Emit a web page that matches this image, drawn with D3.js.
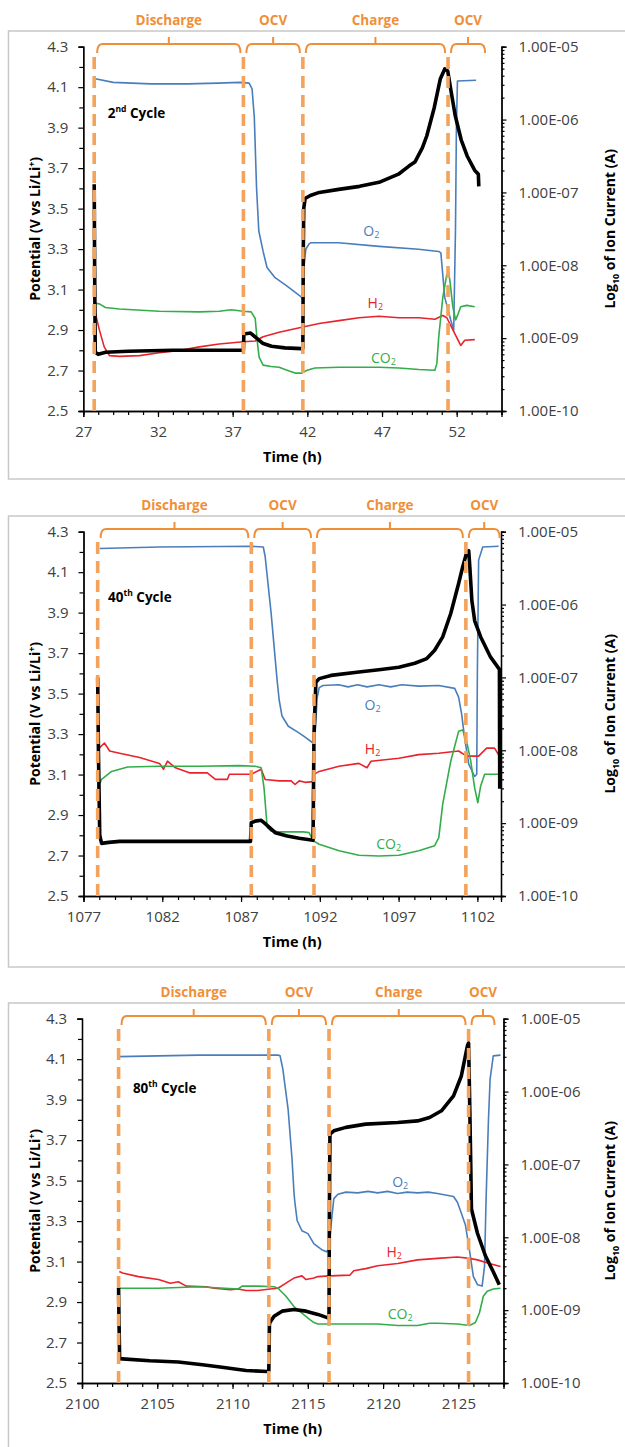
<!DOCTYPE html>
<html>
<head>
<meta charset="utf-8">
<script src="https://cdn.jsdelivr.net/npm/d3@7"></script>
<style>
  body { margin: 0; background: #fff; }
  svg { display: block; font-family: "Open Sans", sans-serif; }
</style>
</head>
<body>
<svg id="chart" width="625" height="1447"></svg>
<script>
// ---- shared axis values ----
const potentialTicks = [2.5, 2.7, 2.9, 3.1, 3.3, 3.5, 3.7, 3.9, 4.1, 4.3];
const potentialMinor = [2.6, 2.8, 3.0, 3.2, 3.4, 3.6, 3.8, 4.0, 4.2];
const currentTicks = [-10, -9, -8, -7, -6, -5];          // log10 of ion current
const currentTickLabels = ['1.00E-10', '1.00E-09', '1.00E-08', '1.00E-07', '1.00E-06', '1.00E-05'];
const phaseNames = ['Discharge', 'OCV', 'Charge', 'OCV'];

// ---- 2nd cycle ----
const c2Ticks = [27, 32, 37, 42, 47, 52];
const c2Phases = [27.73, 37.72, 41.7, 51.42, 54.1];
const c2Potential = [[27.73,3.62],[27.76,3.2],[27.8,2.79],[28.0,2.78],[28.5,2.79],[30,2.795],[33,2.8],[36,2.8],[37.6,2.8],[37.72,2.8],[37.75,2.88],[38.2,2.885],[38.6,2.86],[39.0,2.835],[39.6,2.82],[40.5,2.812],[41.6,2.808],[41.7,2.81],[41.73,3.3],[41.76,3.5],[41.85,3.55],[42.2,3.565],[42.8,3.58],[44.1,3.595],[45.5,3.61],[46.8,3.63],[48.1,3.67],[48.8,3.71],[49.2,3.73],[49.7,3.8],[50.0,3.86],[50.5,4.0],[50.9,4.14],[51.2,4.19],[51.4,4.18],[51.6,4.09],[51.9,3.96],[52.3,3.84],[52.7,3.76],[53.2,3.69],[53.45,3.67],[53.48,3.61]];
const c2O2 = [[27.8,-5.44],[29.0,-5.49],[31.5,-5.51],[34.0,-5.51],[36.0,-5.50],[37.5,-5.49],[38.1,-5.50],[38.3,-5.58],[38.45,-5.97],[38.6,-6.94],[38.75,-7.53],[39.04,-7.81],[39.3,-8.03],[39.84,-8.17],[40.6,-8.28],[41.63,-8.44],[41.7,-8.47],[41.75,-8.06],[41.9,-7.78],[42.1,-7.71],[42.25,-7.69],[44.1,-7.69],[46.8,-7.74],[49.45,-7.78],[50.8,-7.81],[50.94,-7.83],[51.2,-8.44],[51.6,-8.75],[51.8,-8.89],[51.92,-7.5],[51.98,-6.11],[52.05,-5.47],[53.3,-5.46]];
const c2H2 = [[27.76,-8.62],[28.08,-8.89],[28.4,-9.12],[28.75,-9.24],[29.42,-9.25],[30.76,-9.24],[32.09,-9.20],[33.43,-9.17],[34.77,-9.12],[36.1,-9.08],[37.71,-9.05],[38.51,-9.04],[39.04,-8.98],[40.11,-8.92],[41.63,-8.85],[42.79,-8.80],[44.12,-8.76],[45.46,-8.72],[46.79,-8.70],[48.13,-8.72],[49.47,-8.72],[50.54,-8.74],[51.07,-8.69],[51.34,-8.72],[51.88,-8.94],[52.27,-9.10],[52.54,-9.03],[53.21,-9.02]];
const c2CO2 = [[27.81,-8.52],[28.08,-8.53],[28.48,-8.58],[29.42,-8.60],[32.09,-8.63],[34.77,-8.64],[36.1,-8.63],[36.91,-8.61],[37.71,-8.63],[38.24,-8.64],[38.51,-8.73],[38.64,-9.03],[38.77,-9.26],[39.04,-9.37],[39.57,-9.39],[40.11,-9.40],[40.64,-9.44],[41.18,-9.48],[41.63,-9.48],[41.98,-9.44],[42.51,-9.41],[44.12,-9.40],[46.79,-9.40],[48.13,-9.41],[49.47,-9.43],[50.54,-9.44],[50.67,-9.35],[50.8,-8.98],[51.07,-8.44],[51.34,-8.12],[51.47,-8.10],[51.55,-8.22],[51.74,-8.57],[51.93,-8.75],[52.09,-8.67],[52.27,-8.57],[52.67,-8.55],[53.21,-8.57]];

// ---- 40th cycle ----
const c40Ticks = [1077, 1082, 1087, 1092, 1097, 1102];
const c40Phases = [1077.9, 1087.65, 1091.63, 1101.27, 1103.6];
const c40Potential = [[1077.9,3.58],[1077.95,3.2],[1078.03,2.8],[1078.15,2.76],[1078.6,2.765],[1079.3,2.77],[1083,2.77],[1087.6,2.77],[1087.65,2.862],[1087.9,2.87],[1088.28,2.874],[1088.53,2.858],[1089.17,2.813],[1089.93,2.797],[1090.69,2.785],[1091.57,2.775],[1091.63,3.3],[1091.75,3.556],[1091.96,3.574],[1092.71,3.59],[1094.48,3.607],[1095.75,3.618],[1097.02,3.63],[1098.03,3.65],[1098.79,3.673],[1099.29,3.714],[1099.8,3.78],[1100.31,3.896],[1100.81,4.044],[1101.07,4.127],[1101.32,4.196],[1101.45,4.206],[1101.52,4.127],[1101.65,3.96],[1101.83,3.86],[1102.21,3.78],[1102.84,3.68],[1103.4,3.62],[1103.42,3.03]];
const c40O2 = [[1078.03,-5.23],[1081.82,-5.21],[1087.65,-5.20],[1088.41,-5.21],[1088.53,-5.34],[1088.91,-6.12],[1089.29,-7.04],[1089.42,-7.31],[1089.6,-7.53],[1090.0,-7.67],[1090.6,-7.75],[1091.0,-7.81],[1091.57,-7.90],[1091.7,-7.78],[1091.83,-7.28],[1091.96,-7.14],[1092.2,-7.11],[1093.2,-7.10],[1093.8,-7.13],[1094.4,-7.10],[1095.0,-7.13],[1095.75,-7.10],[1096.5,-7.13],[1097.2,-7.10],[1098.28,-7.12],[1099.55,-7.11],[1100.56,-7.15],[1100.81,-7.27],[1101.0,-7.5],[1101.19,-7.83],[1101.45,-8.19],[1101.83,-8.36],[1101.96,-8.33],[1102.0,-6.94],[1102.08,-5.39],[1102.34,-5.21],[1103.35,-5.20]];
const c40H2 = [[1077.9,-7.99],[1078.33,-7.90],[1078.66,-8.01],[1079.29,-8.04],[1080.56,-8.10],[1081.82,-8.18],[1082.08,-8.26],[1082.33,-8.15],[1082.84,-8.24],[1083.72,-8.31],[1084.86,-8.31],[1085.37,-8.40],[1086.13,-8.40],[1086.26,-8.33],[1087.65,-8.33],[1088.28,-8.26],[1088.53,-8.40],[1089.42,-8.42],[1090.18,-8.42],[1090.43,-8.47],[1090.69,-8.42],[1091.07,-8.44],[1091.57,-8.43],[1091.63,-8.33],[1091.96,-8.29],[1093.22,-8.22],[1094.48,-8.18],[1094.99,-8.24],[1095.25,-8.15],[1097.02,-8.11],[1098.28,-8.06],[1099.55,-8.04],[1100.81,-8.01],[1101.32,-8.08],[1102.08,-8.08],[1102.59,-7.97],[1103.09,-7.97],[1103.4,-8.08]];
const c40CO2 = [[1077.9,-8.52],[1078.15,-8.40],[1078.78,-8.29],[1079.8,-8.23],[1081.82,-8.22],[1084.36,-8.22],[1086.89,-8.21],[1087.9,-8.22],[1088.28,-8.24],[1088.46,-8.52],[1088.66,-9.06],[1088.91,-9.11],[1089.42,-9.12],[1090.94,-9.12],[1091.32,-9.13],[1091.57,-9.24],[1091.96,-9.29],[1093.22,-9.38],[1094.48,-9.44],[1095.75,-9.45],[1097.02,-9.44],[1098.28,-9.38],[1099.29,-9.31],[1099.55,-9.20],[1099.8,-8.74],[1100.31,-8.15],[1100.81,-7.74],[1101.07,-7.72],[1101.32,-7.88],[1101.58,-8.15],[1101.83,-8.52],[1102.03,-8.72],[1102.21,-8.49],[1102.46,-8.33],[1103.4,-8.33]];

// ---- 80th cycle ----
const c80Ticks = [2100, 2105, 2110, 2115, 2120, 2125];
const c80Phases = [2102.43, 2112.41, 2116.41, 2125.68, 2127.6];
const c80Potential = [[2102.43,2.97],[2102.46,2.8],[2102.5,2.62],[2102.69,2.619],[2104.5,2.61],[2106.4,2.604],[2108.0,2.59],[2109.3,2.578],[2110.9,2.562],[2112.3,2.557],[2112.41,2.56],[2112.45,2.79],[2112.49,2.8],[2112.76,2.83],[2113.29,2.855],[2114.08,2.863],[2114.88,2.855],[2115.67,2.839],[2116.33,2.822],[2116.41,2.82],[2116.43,3.3],[2116.47,3.73],[2116.73,3.746],[2117.53,3.763],[2118.85,3.779],[2120.97,3.787],[2122.29,3.795],[2123.09,3.812],[2123.88,3.845],[2124.68,3.919],[2125.2,4.017],[2125.6,4.165],[2125.68,4.18],[2125.75,3.9],[2125.82,3.6],[2125.87,3.36],[2126.27,3.24],[2126.79,3.13],[2127.32,3.05],[2127.72,2.985]];
const c80O2 = [[2102.43,-5.52],[2105.08,-5.51],[2107.73,-5.50],[2110.37,-5.50],[2113.02,-5.50],[2113.16,-5.51],[2113.34,-5.69],[2113.69,-6.24],[2113.95,-6.92],[2114.08,-7.38],[2114.13,-7.5],[2114.29,-7.77],[2114.61,-7.91],[2115.01,-7.95],[2115.41,-8.09],[2115.93,-8.17],[2116.25,-8.2],[2116.41,-8.15],[2116.6,-7.72],[2116.73,-7.47],[2117.0,-7.41],[2117.53,-7.38],[2118.32,-7.39],[2119.0,-7.37],[2119.64,-7.39],[2120.3,-7.37],[2120.97,-7.40],[2121.6,-7.38],[2122.29,-7.39],[2123.0,-7.38],[2123.61,-7.40],[2124.68,-7.44],[2124.94,-7.52],[2125.2,-7.67],[2125.47,-7.83],[2125.74,-8.18],[2126.0,-8.54],[2126.27,-8.65],[2126.58,-8.67],[2126.74,-8.40],[2126.84,-7.5],[2127.0,-6.39],[2127.11,-5.83],[2127.32,-5.51],[2127.8,-5.50]];
const c80H2 = [[2102.48,-8.47],[2102.69,-8.49],[2103.75,-8.54],[2105.08,-8.58],[2105.87,-8.63],[2106.4,-8.61],[2106.93,-8.67],[2108.26,-8.68],[2108.78,-8.70],[2109.85,-8.72],[2110.37,-8.71],[2110.9,-8.73],[2111.7,-8.73],[2112.49,-8.71],[2113.02,-8.70],[2113.55,-8.63],[2114.08,-8.56],[2114.61,-8.53],[2114.88,-8.58],[2115.41,-8.56],[2115.67,-8.54],[2116.47,-8.53],[2117.79,-8.52],[2118.05,-8.46],[2118.85,-8.43],[2119.64,-8.39],[2120.97,-8.36],[2122.29,-8.31],[2123.61,-8.29],[2124.94,-8.27],[2125.74,-8.29],[2126.27,-8.31],[2127.06,-8.36],[2127.8,-8.40]];
const c80CO2 = [[2102.43,-8.70],[2105.08,-8.70],[2107.73,-8.68],[2110.37,-8.71],[2110.64,-8.67],[2111.7,-8.67],[2112.76,-8.68],[2113.02,-8.70],[2113.55,-8.81],[2114.08,-8.95],[2114.61,-9.04],[2115.14,-9.13],[2115.41,-9.17],[2115.67,-9.19],[2117.0,-9.19],[2119.64,-9.19],[2120.97,-9.21],[2122.29,-9.21],[2123.09,-9.18],[2123.61,-9.18],[2124.94,-9.19],[2125.74,-9.21],[2126.13,-9.17],[2126.4,-9.04],[2126.66,-8.81],[2126.92,-8.74],[2127.32,-8.71],[2127.8,-8.70]];

const panels = [
  { top: 31, frameH: 448, left: 83.3, right: 501.5, xDomain: [27, 55], ticks: c2Ticks, phases: c2Phases,
    potential: c2Potential, o2: c2O2, h2: c2H2, co2: c2CO2,
    cycle: ['2', 'nd', ' Cycle'], cycleAt: [28.64, 3.97],
    o2At: [46.28, 3.394], h2At: [46.55, 3.04], co2At: [47.09, 2.768] },
  { top: 516, frameH: 451, left: 83.5, right: 501, xDomain: [1077, 1103.5], ticks: c40Ticks, phases: c40Phases,
    potential: c40Potential, o2: c40O2, h2: c40H2, co2: c40CO2,
    cycle: ['40', 'th', ' Cycle'], cycleAt: [1078.56, 3.976],
    o2At: [1095.35, 3.449], h2At: [1095.35, 3.23], co2At: [1096.37, 2.76] },
  { top: 1003, frameH: 470, left: 82, right: 503.5, xDomain: [2100, 2128], ticks: c80Ticks, phases: c80Phases,
    potential: c80Potential, o2: c80O2, h2: c80H2, co2: c80CO2,
    cycle: ['80', 'th', ' Cycle'], cycleAt: [2103.38, 3.96],
    o2At: [2121.14, 3.50], h2At: [2120.74, 3.15], co2At: [2121.14, 2.844] }
];

const svg = d3.select('#chart');
const ORANGE = '#ef8f3a';
const DASHED = '#f3a35c';
const BLUE = '#4a7ebb', RED = '#e8232c', GREEN = '#33ad4a';
const TXT = '#404040';
const plotTop = 15.7, plotBottom = 380;

function styleAxis(sel) {
  sel.select('.domain').attr('stroke', '#000').attr('stroke-width', 1.3);
  sel.selectAll('.tick line').attr('stroke', '#000').attr('stroke-width', 1.2);
  sel.selectAll('.tick text').attr('fill', TXT).attr('font-size', 15)
    .attr('font-family', '"Open Sans", sans-serif');
}

function subLabel(g, x, y, parts, color) {
  const t = g.append('text').attr('x', x).attr('y', y).attr('fill', color)
    .attr('font-size', 14).attr('text-anchor', 'middle').attr('dominant-baseline', 'central');
  t.append('tspan').text(parts[0]);
  t.append('tspan').text(parts[1]).attr('font-size', 9).attr('dy', 4);
}

function drawPanel(p) {
  const g = svg.append('g').attr('transform', `translate(0,${p.top})`);

  // panel frame
  g.append('rect').attr('x', 8.5).attr('y', 0).attr('width', 700).attr('height', p.frameH)
    .attr('fill', 'none').attr('stroke', '#c8c8c8').attr('stroke-width', 1.5);

  const x = d3.scaleLinear().domain(p.xDomain).range([p.left, p.right]);
  const y = d3.scaleLinear().domain([2.5, 4.3]).range([plotBottom, plotTop]);
  const yR = d3.scaleLinear().domain([-10, -5]).range([plotBottom, plotTop]);

  // x axis
  const xMinor = d3.range(p.xDomain[0], Math.floor(p.xDomain[1]) + 1, 1);
  g.append('g').attr('transform', `translate(0,${plotBottom})`)
    .call(d3.axisBottom(x).tickValues(xMinor).tickFormat('').tickSize(4)).call(styleAxis);
  g.append('g').attr('transform', `translate(0,${plotBottom})`)
    .call(d3.axisBottom(x).tickValues(p.ticks).tickFormat(d3.format('d')).tickSize(6).tickPadding(9))
    .call(styleAxis);

  // left axis
  g.append('g').attr('transform', `translate(${p.left},0)`)
    .call(d3.axisLeft(y).tickValues(potentialMinor).tickFormat('').tickSize(4)).call(styleAxis);
  g.append('g').attr('transform', `translate(${p.left},0)`)
    .call(d3.axisLeft(y).tickValues(potentialTicks).tickFormat(d3.format('.1f')).tickSize(5).tickPadding(10))
    .call(styleAxis);

  // right axis (log10 of ion current)
  const logMinor = [];
  currentTicks.slice(0, -1).forEach(n => d3.range(2, 10).forEach(k => logMinor.push(n + Math.log10(k))));
  g.append('g').attr('transform', `translate(${p.right},0)`)
    .call(d3.axisRight(yR).tickValues(logMinor).tickFormat('').tickSize(3)).call(styleAxis);
  g.append('g').attr('transform', `translate(${p.right},0)`)
    .call(d3.axisRight(yR).tickValues(currentTicks).tickFormat((d, i) => currentTickLabels[i]).tickSize(5).tickPadding(12))
    .call(styleAxis);

  // axis titles
  g.append('text').attr('x', (p.left + p.right) / 2).attr('y', 431).attr('text-anchor', 'middle')
    .attr('font-weight', 'bold').attr('font-size', 14.5).attr('fill', '#000').text('Time (h)');

  const yl = g.append('text').attr('transform', `translate(35,${(plotTop + plotBottom) / 2}) rotate(-90)`)
    .attr('text-anchor', 'middle').attr('font-weight', 'bold').attr('font-size', 14).attr('dy', '0.35em');
  yl.append('tspan').text('Potential (V vs Li/Li');
  yl.append('tspan').text('+').attr('font-size', 9).attr('dy', -5);
  yl.append('tspan').text(')').attr('dy', 5);

  const yr = g.append('text').attr('transform', `translate(610,${(plotTop + plotBottom) / 2}) rotate(-90)`)
    .attr('text-anchor', 'middle').attr('font-weight', 'bold').attr('font-size', 14).attr('dy', '0.35em');
  yr.append('tspan').text('Log');
  yr.append('tspan').text('10').attr('font-size', 9).attr('dy', 4);
  yr.append('tspan').text(' of Ion Current (A)').attr('dy', -4);

  // series
  const lineL = d3.line().x(d => x(d[0])).y(d => y(d[1]));
  const lineR = d3.line().x(d => x(d[0])).y(d => yR(d[1]));
  [[p.o2, BLUE], [p.h2, RED], [p.co2, GREEN]].forEach(([data, c]) => {
    g.append('path').datum(data).attr('d', lineR).attr('fill', 'none')
      .attr('stroke', c).attr('stroke-width', 1.6).attr('stroke-linejoin', 'round');
  });
  g.append('path').datum(p.potential).attr('d', lineL).attr('fill', 'none')
    .attr('stroke', '#000').attr('stroke-width', 3.6).attr('stroke-linejoin', 'round');

  // phase boundaries
  p.phases.slice(0, 4).forEach(t => {
    g.append('line').attr('x1', x(t)).attr('x2', x(t)).attr('y1', 26).attr('y2', plotBottom)
      .attr('stroke', DASHED).attr('stroke-width', 3.6).attr('stroke-dasharray', '12,7');
  });

  // braces + phase names
  const by = 13;
  phaseNames.forEach((name, i) => {
    const x0 = x(p.phases[i]) + 3, x1 = x(p.phases[i + 1]) - 3, xm = (x0 + x1) / 2;
    g.append('path')
      .attr('d', `M${x0},${by + 9} Q${x0},${by} ${x0 + 5},${by} L${x1 - 5},${by} Q${x1},${by} ${x1},${by + 9} M${xm},${by} L${xm},${by - 7}`)
      .attr('fill', 'none').attr('stroke', ORANGE).attr('stroke-width', 2);
    g.append('text').attr('x', xm).attr('y', -6).attr('text-anchor', 'middle')
      .attr('font-weight', 'bold').attr('font-size', 13.5).attr('fill', ORANGE).text(name);
  });

  // cycle label
  const cl = g.append('text').attr('x', x(p.cycleAt[0])).attr('y', y(p.cycleAt[1]))
    .attr('dominant-baseline', 'central').attr('font-weight', 'bold').attr('font-size', 13.5).attr('fill', '#000');
  cl.append('tspan').text(p.cycle[0]);
  cl.append('tspan').text(p.cycle[1]).attr('font-size', 8.5).attr('dy', -5);
  cl.append('tspan').text(p.cycle[2]).attr('dy', 5);

  subLabel(g, x(p.o2At[0]), y(p.o2At[1]), ['O', '2'], BLUE);
  subLabel(g, x(p.h2At[0]), y(p.h2At[1]), ['H', '2'], RED);
  subLabel(g, x(p.co2At[0]), y(p.co2At[1]), ['CO', '2'], GREEN);
}

panels.forEach(drawPanel);
</script>
</body>
</html>
